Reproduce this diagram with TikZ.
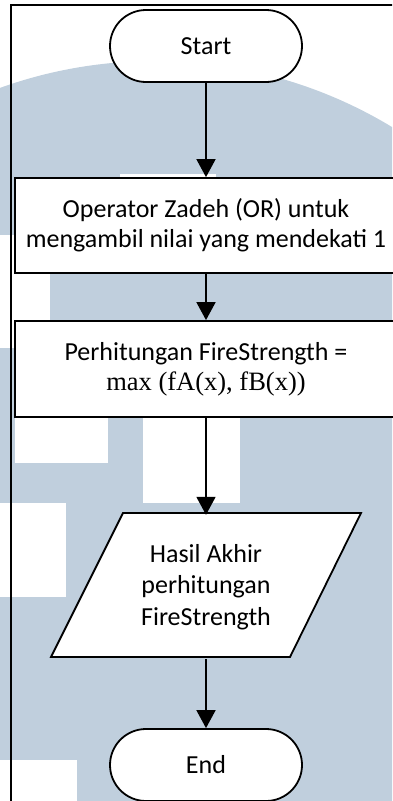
\documentclass[tikz,border=0pt]{standalone}
\usepackage{fontspec}
\setmainfont{Carlito}
\newfontfamily\serifmath{Liberation Serif}
\usetikzlibrary{arrows.meta}

\definecolor{wmblue}{RGB}{192,207,221}

\begin{document}
\begin{tikzpicture}[x=1pt, y=-1pt,
  outline/.style={draw=black, line width=1.8pt, fill=white},
  terminal/.style={outline, rounded corners=36pt, minimum width=192pt,
    minimum height=72pt, inner sep=0pt},
  process/.style={outline, minimum width=382pt, minimum height=96pt,
    inner sep=0pt, align=center},
  flow/.style={line width=1.8pt, -{Triangle[length=18pt, width=19pt]}},
  font=\fontsize{26}{30}\selectfont]

\useasboundingbox (0,0) rectangle (392,801);

% background emblem and page frame
\begin{scope}
  \clip (0,0) rectangle (392,801);
  \fill[wmblue] (155,519) circle[radius=458];
  \fill[white] (0,235) rectangle (50,348);
  \fill[white] (15,400) rectangle (108,463);
  \fill[white] (143,400) rectangle (240,503);
  \fill[white] (0,503) rectangle (66,597);
  \fill[white] (0,760) rectangle (77,801);
  \fill[white] (120,174) rectangle (216,200);
  \draw[line width=1.8pt] (11,830) |- (420,5);
\end{scope}

% flowchart
\node[terminal] (start) at (206,46) {Start};
\node[process, minimum height=95pt] (zadeh) at (206,225.5)
  {Operator Zadeh (OR) untuk\\mengambil nilai yang mendekati 1};
\node[process] (fire) at (206,369)
  {Perhitungan FireStrength =\\{\serifmath\fontsize{26.5}{30}\selectfont max (fA(x), fB(x))}};
\draw[outline] (123,513) -- (361,513) -- (290,657) -- (51,657) -- cycle;
\node[minimum width=238pt, minimum height=144pt, inner sep=0pt, align=center,
  font=\fontsize{26}{31.5}\selectfont] (hasil) at (206,587)
  {Hasil Akhir\\perhitungan\\FireStrength};
\node[terminal] (end) at (206,765) {End};

\draw[flow] (start) -- (zadeh);
\draw[flow] (zadeh) -- (fire);
\draw[flow] (fire) -- (hasil);
\draw[flow] (hasil) -- (end);
\end{tikzpicture}
\end{document}
